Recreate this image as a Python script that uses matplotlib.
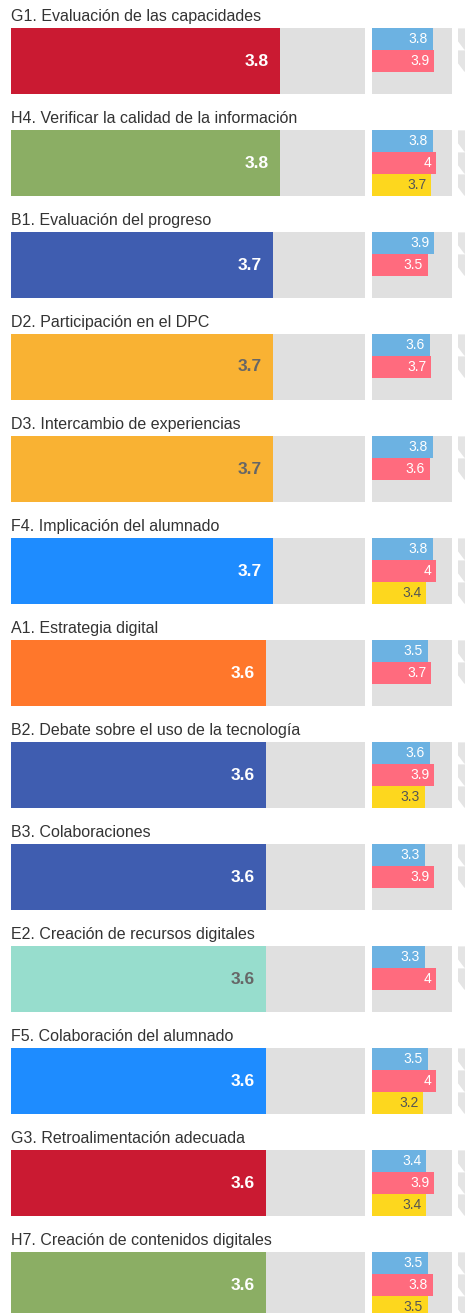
import matplotlib.pyplot as plt
from matplotlib.patches import Polygon

plt.rcParams['font.family'] = ['Liberation Sans', 'DejaVu Sans']

titles = [
    "G1. Evaluación de las capacidades",
    "H4. Verificar la calidad de la información",
    "B1. Evaluación del progreso",
    "D2. Participación en el DPC",
    "D3. Intercambio de experiencias",
    "F4. Implicación del alumnado",
    "A1. Estrategia digital",
    "B2. Debate sobre el uso de la tecnología",
    "B3. Colaboraciones",
    "E2. Creación de recursos digitales",
    "F5. Colaboración del alumnado",
    "G3. Retroalimentación adecuada",
    "H7. Creación de contenidos digitales",
]
scores = [3.8, 3.8, 3.7, 3.7, 3.7, 3.7, 3.6, 3.6, 3.6, 3.6, 3.6, 3.6, 3.6]
area_colors = ["#CA1A32", "#8BAE64", "#3F5DB0", "#F9B233", "#F9B233", "#1E8CFF",
               "#FF772B", "#3F5DB0", "#3F5DB0", "#97DDCD", "#1E8CFF", "#CA1A32",
               "#8BAE64"]
dark_text = [False, False, False, True, True, False, False, False, False, True,
             False, False, False]
# sub scores: blue / pink / yellow (None = missing)
sub_blue = [3.8, 3.8, 3.9, 3.6, 3.8, 3.8, 3.5, 3.6, 3.3, 3.3, 3.5, 3.4, 3.5]
sub_pink = [3.9, 4, 3.5, 3.7, 3.6, 4, 3.7, 3.9, 3.9, 4, 4, 3.9, 3.8]
sub_yellow = [None, 3.7, None, None, None, 3.4, None, 3.3, None, None, 3.2, 3.4, 3.5]
sub_colors = ["#6CB2E2", "#FF6B7E", "#FDD71E"]
sub_text = ["white", "white", "#555555"]

W, H = 465, 1313
GREY = "#E0E0E0"
fig = plt.figure(figsize=(W / 100, H / 100), dpi=100)


def rect(x, y, w, h):
    return [x / W, 1 - (y + h) / H, w / W, h / H]


def fmt(v):
    return f"{v:g}"


for i, title in enumerate(titles):
    top = 28 + i * 102
    fig.text(11 / W, 1 - (top - 7) / H, title, fontsize=11.5, color="#333333",
             va="baseline", ha="left")

    ax = fig.add_axes(rect(11, top, 354, 66))
    ax.barh(0.5, 5, height=1, color=GREY)
    ax.barh(0.5, scores[i], height=1, color=area_colors[i])
    ax.set_xlim(0, 5)
    ax.set_ylim(0, 1)
    ax.axis("off")
    ax.annotate(fmt(scores[i]), (scores[i], 0.5), xytext=(-8, 0),
                textcoords="offset points", ha="right", va="center",
                fontsize=12.5, fontweight="bold",
                color="#666666" if dark_text[i] else "white")

    subs = [sub_blue[i], sub_pink[i], sub_yellow[i]]
    sax = fig.add_axes(rect(372, top, 80, 66))
    sax.barh(1.5, 5, height=3, color=GREY)
    for j, v in enumerate(subs):
        if v is None:
            continue
        sax.barh(j + 0.5, v, height=0.97, color=sub_colors[j])
        sax.annotate(fmt(v), (v, j + 0.5), xytext=(-3.5, 0),
                     textcoords="offset points", ha="right", va="center",
                     fontsize=10, color=sub_text[j])
    sax.set_xlim(0, 5)
    sax.set_ylim(3, 0)
    sax.axis("off")

    tax = fig.add_axes(rect(458, top, 12, 66))
    for j, v in enumerate(subs):
        if v is None:
            continue
        tax.add_patch(Polygon([(0, j + 0.05), (1, j + 0.05), (1, j + 0.95),
                               (0.55, j + 0.95), (0, j + 0.55)],
                              closed=True, color="#E4E4E4"))
    tax.set_xlim(0, 1)
    tax.set_ylim(3, 0)
    tax.axis("off")

fig.savefig("out.png", dpi=100)
